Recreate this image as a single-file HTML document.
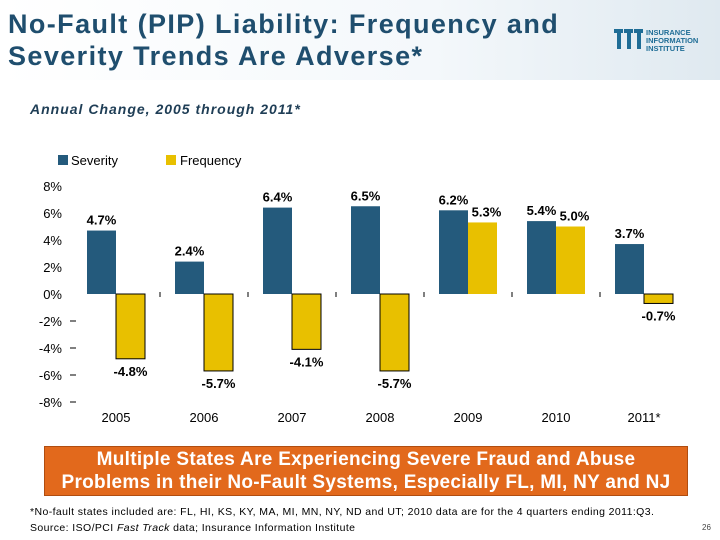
<!DOCTYPE html>
<html><head><meta charset="utf-8"><style>
body{margin:0;width:720px;height:540px;overflow:hidden;background:#fff;font-family:"Liberation Sans",Arial,sans-serif;position:relative}
.hdr{position:absolute;left:0;top:0;width:720px;height:80px;background:linear-gradient(90deg,#ffffff 0%,#f4f8fb 60%,#dfe9f0 100%)}
.title{position:absolute;left:8px;top:8px;font-size:27px;letter-spacing:1.4px;font-weight:bold;color:#1f4e6e;line-height:32px}
.sub{position:absolute;left:30px;top:101px;font-size:14px;letter-spacing:1px;font-weight:bold;font-style:italic;color:#1f3e56}
.box{position:absolute;left:44px;top:446px;width:644px;height:50px;background:#e2691c;border:1px solid #b04d10;color:#fff;font-weight:bold;font-size:19px;letter-spacing:0.3px;text-align:center;line-height:23px;box-sizing:border-box;padding-top:1px;white-space:nowrap}
.fn{position:absolute;left:30px;top:504px;font-size:10.5px;letter-spacing:0.4px;color:#000;line-height:16px;white-space:nowrap}
.pg{position:absolute;left:702px;top:523px;font-size:8px;color:#444}
</style></head><body>
<div class="hdr"></div>
<div class="title">No-Fault (PIP) Liability: Frequency and<br>Severity Trends Are Adverse*</div>
<svg style="position:absolute;left:612px;top:26px" width="100" height="30">
<g fill="#1f6d96"><rect x="2" y="3" width="9" height="4"/><rect x="5" y="7" width="4" height="16"/><rect x="12" y="3" width="9" height="4"/><rect x="15" y="7" width="4" height="16"/><rect x="22" y="3" width="9" height="4"/><rect x="25" y="7" width="4" height="16"/></g>
<text x="34" y="9" font-size="7.5" font-weight="bold" fill="#1f6d96" font-family="Liberation Sans">INSURANCE</text>
<text x="34" y="17" font-size="7.5" font-weight="bold" fill="#1f6d96" font-family="Liberation Sans">INFORMATION</text>
<text x="34" y="25" font-size="7.5" font-weight="bold" fill="#1f6d96" font-family="Liberation Sans">INSTITUTE</text>
</svg>
<div class="sub">Annual Change, 2005 through 2011*</div>
<svg id="ch" style="position:absolute;left:0;top:0" width="720" height="440"></svg>
<div class="box">Multiple States Are Experiencing Severe Fraud and Abuse<br>Problems in their No-Fault Systems, Especially FL, MI, NY and NJ</div>
<div class="fn">*No-fault states included are: FL, HI, KS, KY, MA, MI, MN, NY, ND and UT; 2010 data are for the 4 quarters ending 2011:Q3.<br>Source: ISO/PCI <i>Fast Track</i> data; Insurance Information Institute</div>
<div class="pg">26</div>
<script>
const categories=["2005","2006","2007","2008","2009","2010","2011*"];
const severity=[4.7,2.4,6.4,6.5,6.2,5.4,3.7];
const frequency=[-4.8,-5.7,-4.1,-5.7,5.3,5.0,-0.7];
const yTicks=[8,6,4,2,0,-2,-4,-6,-8];
const NS="http://www.w3.org/2000/svg";
const svg=document.getElementById('ch');
const y0=294,k=13.5,x0=72,band=88,bw=29;
const Y=v=>y0-v*k;
const X=i=>x0+i*band+44;
function el(t,a,p){const e=document.createElementNS(NS,t);for(const n in a)e.setAttribute(n,a[n]);(p||svg).appendChild(e);return e;}
function txt(x,y,s,o){const e=el('text',Object.assign({x:x,y:y,'font-family':'Liberation Sans, Arial, sans-serif','font-size':13},o||{}));e.textContent=s;return e;}
let g=el('rect',{x:58,y:155,width:10,height:10,fill:'#245a7c'});

let t=txt(71,165,'Severity',{'font-size':13});

g=el('rect',{x:166,y:155,width:10,height:10,fill:'#e8c000'});

t=txt(180,165,'Frequency',{'font-size':13});

yTicks.forEach(v=>{const l=txt(62,Y(v)+5,v+'%',{'text-anchor':'end'});

if(v<0){const d=el('line',{x1:70,x2:76,y1:Y(v),y2:Y(v),stroke:'#000'});}});
for(let i=1;i<categories.length;i++){const d=el('line',{x1:x0+i*band,x2:x0+i*band,y1:y0-2,y2:y0+3,stroke:'#000'});
}
categories.forEach((c,i)=>{const cx=X(i);
const s=severity[i],f=frequency[i];
const b1=el('rect',{x:cx-bw,y:Math.min(Y(s),y0),width:bw,height:Math.abs(s)*k,fill:'#245a7c'});

const b2=el('rect',{x:cx,y:Math.min(Y(f),y0),width:bw,height:Math.abs(f)*k,fill:'#e8c000',stroke:f<0?'#000':'none','stroke-width':1});

const l1=txt(cx-bw/2,s>=0?Y(s)-6:Y(s)+16,s.toFixed(1)+'%',{'font-weight':'bold','text-anchor':'middle'});

const fy=f>=0?Y(f)-6:Y(f)+17;
const l2=txt(cx+bw/2+(f>=0?4:0),fy,f.toFixed(1)+'%',{'font-weight':'bold','text-anchor':'middle'});

const cl=txt(cx,422,c,{'text-anchor':'middle'});

});
</script>
</body></html>
